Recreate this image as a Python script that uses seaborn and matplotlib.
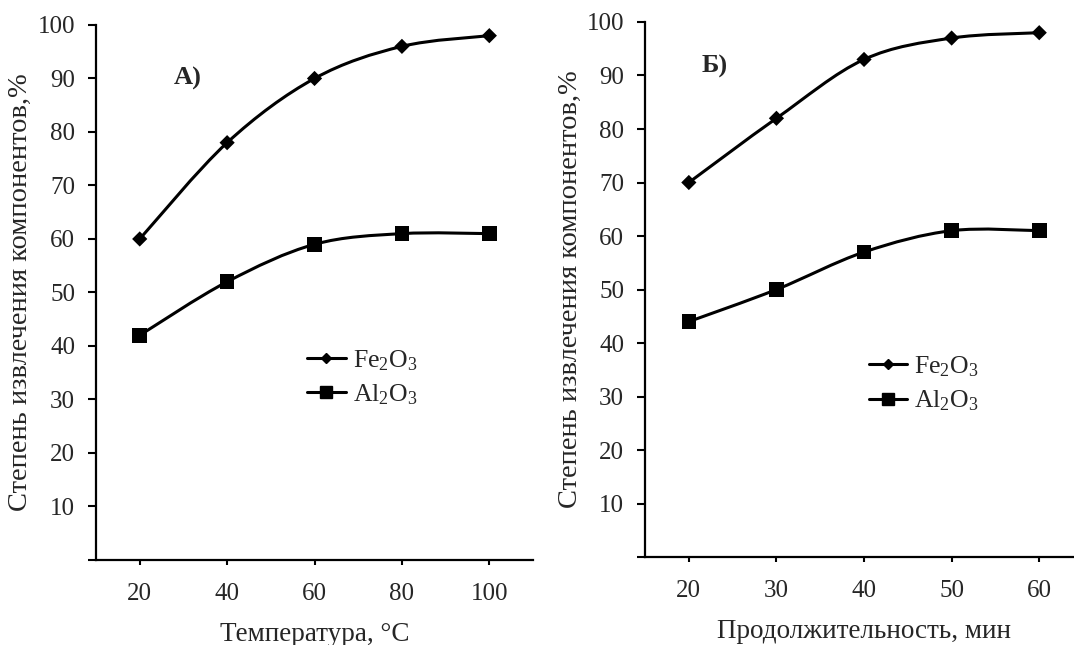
import numpy as np
import pandas as pd
import matplotlib
matplotlib.use("Agg")
import matplotlib.pyplot as plt
import seaborn as sns
from matplotlib.path import Path
from matplotlib.patches import PathPatch
from matplotlib.lines import Line2D

# Data
temp_c = [20, 40, 60, 80, 100]
fe_by_temp = [60, 78, 90, 96, 98]
al_by_temp = [42, 52, 59, 61, 61]

time_min = [20, 30, 40, 50, 60]
fe_by_time = [70, 82, 93, 97, 98]
al_by_time = [44, 50, 57, 61, 61]

series_names = ["Fe$_2$O$_3$", "Al$_2$O$_3$"]
y_ticks = list(range(0, 101, 10))
y_ticklabels = [""] + [str(v) for v in y_ticks[1:]]
y_label = "Степень извлечения компонентов,%"

sns.set_style("ticks")
plt.rcParams["font.family"] = ["Liberation Serif", "DejaVu Serif"]
plt.rcParams["mathtext.fontset"] = "custom"
plt.rcParams["mathtext.rm"] = "Liberation Serif"
plt.rcParams["mathtext.default"] = "regular"


def smooth_path(x, y):
    # Excel-like smoothed line (Catmull-Rom as cubic Bezier segments)
    p = np.column_stack([x, y]).astype(float)
    n = len(p)
    verts = [p[0]]
    codes = [Path.MOVETO]
    for i in range(n - 1):
        p0 = p[i - 1] if i > 0 else p[i]
        p3 = p[i + 2] if i + 2 < n else p[i + 1]
        c1 = p[i] + (p[i + 1] - p0) / 6.0
        c2 = p[i + 1] - (p3 - p[i]) / 6.0
        verts += [c1, c2, p[i + 1]]
        codes += [Path.CURVE4] * 3
    return Path(verts, codes)


def panel(ax, x, fe, al, xlim, xlabel, tag, tag_pos, leg_anchor, ylab_x):
    df = pd.DataFrame({"x": x * 2,
                       "y": fe + al,
                       "s": [series_names[0]] * len(x) + [series_names[1]] * len(x)})
    for vals in (fe, al):
        ax.add_patch(PathPatch(smooth_path(x, vals), facecolor="none",
                               edgecolor="black", lw=2.2, zorder=2))
    sns.scatterplot(data=df, x="x", y="y", hue="s", style="s",
                    markers={series_names[0]: "D", series_names[1]: "s"},
                    size="s", sizes={series_names[0]: 60, series_names[1]: 110},
                    palette=["black", "black"], linewidth=0, legend=False,
                    ax=ax, zorder=3)
    ax.set_xlim(*xlim)
    ax.set_ylim(0, 100)
    ax.set_xticks(x)
    ax.set_yticks(y_ticks)
    ax.set_yticklabels(y_ticklabels)
    ax.tick_params(axis="both", labelsize=18, width=1.5, color="black")
    ax.tick_params(axis="x", length=3.5, pad=13)
    ax.tick_params(axis="y", length=6, pad=9)
    for side in ("top", "right"):
        ax.spines[side].set_visible(False)
    for side in ("left", "bottom"):
        ax.spines[side].set_linewidth(1.6)
        ax.spines[side].set_color("black")
    ax.set_xlabel(xlabel, fontsize=19.5, labelpad=12)
    ax.set_ylabel(y_label, fontsize=20.5)
    ax.yaxis.set_label_coords(ylab_x, 0.5)
    ax.text(tag_pos[0], tag_pos[1], tag, transform=ax.transAxes,
            fontsize=19, fontweight="bold", ha="center", va="center")
    handles = [Line2D([], [], color="black", lw=2.2, marker="D", ms=5.5),
               Line2D([], [], color="black", lw=2.2, marker="s", ms=8.5)]
    ax.legend(handles, series_names, loc="upper left", bbox_to_anchor=leg_anchor,
              frameon=False, fontsize=18.5, handlelength=1.5, handletextpad=0.27,
              labelspacing=0.38, borderpad=0, borderaxespad=0)


fig = plt.figure(figsize=(10.74, 6.45), dpi=100)
ax1 = fig.add_axes([0.0894, 0.1318, 0.4069, 0.8295])
ax2 = fig.add_axes([0.6006, 0.1364, 0.4078, 0.8295])

panel(ax1, temp_c, fe_by_temp, al_by_temp, (10, 110),
      "Температура, °C", "А)", (0.21, 0.90), (0.483, 0.396), -0.144)
panel(ax2, time_min, fe_by_time, al_by_time, (15, 65),
      "Продолжительность, мин", "Б)", (0.16, 0.916), (0.511, 0.379), -0.142)

fig.savefig("out.png", dpi=100)
